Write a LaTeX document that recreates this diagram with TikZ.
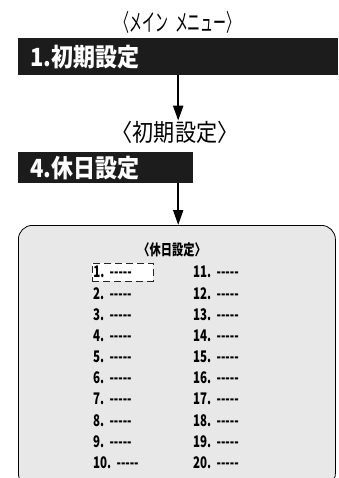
\documentclass[tikz,border=0pt]{standalone}
\usepackage{fontspec}
\usepackage{tikz}
\usetikzlibrary{arrows.meta,positioning}
\newfontfamily\jpfont{Noto Sans CJK JP}
\definecolor{barblack}{RGB}{28,28,28}
\definecolor{panelgray}{RGB}{232,232,232}
\newcommand{\blank}{-\kern0pt-\kern0pt-\kern0pt-\kern0pt-}

\begin{document}
\begin{tikzpicture}[x=1pt,y=-1pt,
  bar/.style={fill=barblack, text=white, anchor=north west, inner xsep=12pt, inner ysep=0pt,
    align=left, font=\jpfont\bfseries\fontsize{25}{25}\selectfont\addfontfeature{FakeStretch=0.88}},
  menutitle/.style={inner sep=0pt, font=\jpfont\fontsize{24}{24}\selectfont\addfontfeature{FakeStretch=0.54}},
  subtitle/.style={inner sep=0pt, font=\jpfont\fontsize{24}{24}\selectfont\addfontfeature{FakeStretch=0.88}},
  panel/.style={draw=black, line width=0.8pt, fill=panelgray, rounded corners=14pt, anchor=north west},
  item/.style={anchor=west, text width=59pt, inner xsep=1pt, inner ysep=0pt, minimum height=18pt,
    font=\jpfont\bfseries\fontsize{16}{16}\selectfont\addfontfeature{FakeStretch=0.72}},
  sel1/.style={draw=black!85, fill=white, line width=0.7pt, dash pattern=on 7pt off 4pt},
  link/.style={line width=2pt, -{Triangle[width=10pt,length=15pt]}}]
  \clip (0,0) rectangle (338,478);
  % main menu and first screen
  \node[menutitle] (maintitle) at (178,22) {〈メイン\hspace{7pt}メニュー〉};
  \node[bar, text width=296pt, minimum height=37pt] (initbar) at (18,38) {1.初期設定};
  \node[subtitle] (inittitle) at (175,132) {〈初期設定〉};
  \node[bar, text width=151pt, minimum height=31pt] (holbar) at (18,152) {4.休日設定};
  % holiday setting screen
  \node[panel, minimum width=317pt, minimum height=262pt] (holpanel) at (18,225) {};
  \node[inner sep=0pt, font=\jpfont\bfseries\fontsize{15}{15}\selectfont\addfontfeature{FakeStretch=0.75}] (holtitle) at (172,250) {〈休日設定〉};
  \foreach \n in {1,...,10} {
    \pgfmathtruncatemacro\m{\n+10}
    \node[item, sel\n/.try] (l\n) at (92,{272+21.2*(\n-1)}) {\n.\ \blank};
    \node[item] (r\n) at (192,{272+21.2*(\n-1)}) {\m.\ \blank};
  }
  % arrows
  \draw[link] (initbar.south) -- (initbar.south |- inittitle.north);
  \draw[link] (holbar.south -| initbar.south) -- (holpanel.north -| initbar.south);
\end{tikzpicture}
\end{document}
